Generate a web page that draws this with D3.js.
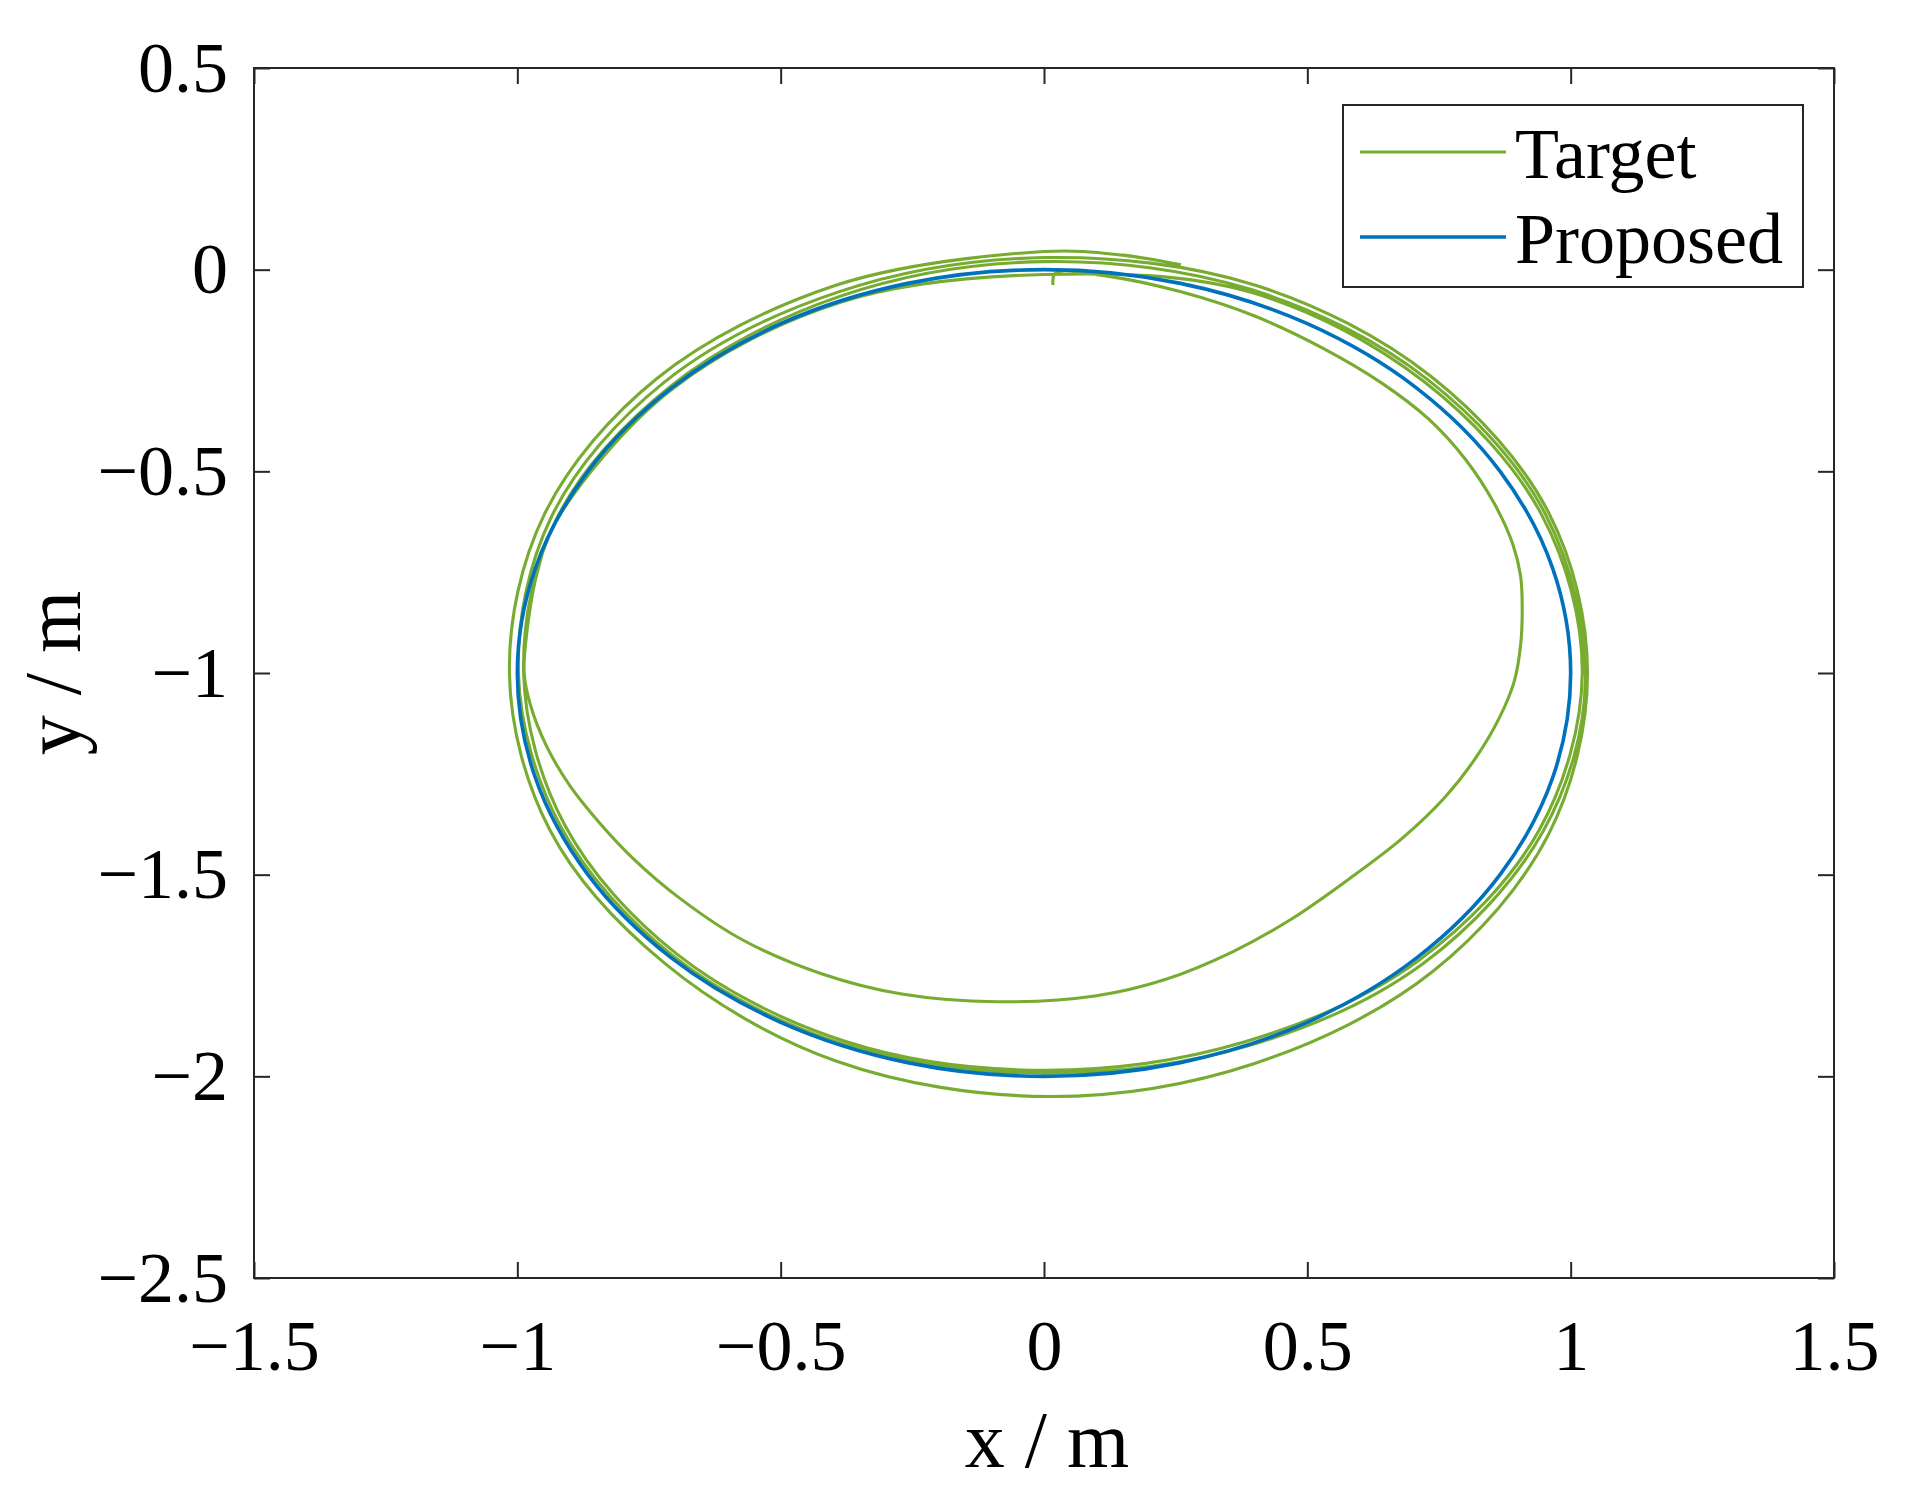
<!DOCTYPE html>
<html>
<head>
<meta charset="utf-8">
<script src="https://cdn.jsdelivr.net/npm/d3@7"></script>
<style>
  html, body { margin: 0; padding: 0; background: #ffffff; }
  svg { display: block; }
  text { font-family: "Liberation Serif", "Times New Roman", serif; fill: #000; }
</style>
</head>
<body>
<svg id="chart" width="1909" height="1496"></svg>
<script>
// ---------- data ----------
const xTicks = [-1.5, -1, -0.5, 0, 0.5, 1, 1.5];
const xTickLabels = ["\u22121.5", "\u22121", "\u22120.5", "0", "0.5", "1", "1.5"];
const yTicks = [-2.5, -2, -1.5, -1, -0.5, 0, 0.5];
const yTickLabels = ["\u22122.5", "\u22122", "\u22121.5", "\u22121", "\u22120.5", "0", "0.5"];
const seriesNames = ["Target", "Proposed"];
const seriesColors = ["#77AC30", "#0072BD"];

// Proposed trajectory (closed loop)
const proposedPts = [
  [0, 0], [0.259, -0.034], [0.5, -0.134], [0.707, -0.293], [0.866, -0.5], [0.966, -0.741],
  [1, -1], [0.966, -1.259], [0.866, -1.5], [0.707, -1.707], [0.5, -1.866], [0.259, -1.966],
  [0, -2], [-0.259, -1.966], [-0.5, -1.866], [-0.707, -1.707], [-0.866, -1.5], [-0.966, -1.259],
  [-1, -1], [-0.966, -0.741], [-0.866, -0.5], [-0.707, -0.293], [-0.5, -0.134], [-0.259, -0.034]
];

// Target trajectory, first (inner, shortcut) lap
const targetLap1 = [
  [0.017, -0.038], [0.022, -0.008], [0.12, -0.016], [0.26, -0.055], [0.40, -0.115], [0.53, -0.195],
  [0.64, -0.28], [0.73, -0.37], [0.80, -0.47], [0.855, -0.58], [0.89, -0.68], [0.905, -0.76],
  [0.908, -0.84], [0.905, -0.93], [0.893, -1.02], [0.865, -1.11], [0.82, -1.21], [0.76, -1.31],
  [0.68, -1.41], [0.58, -1.51], [0.47, -1.61], [0.36, -1.69], [0.23, -1.76], [0.10, -1.80],
  [-0.09, -1.815], [-0.27, -1.796], [-0.424, -1.745], [-0.572, -1.662], [-0.69, -1.56], [-0.78, -1.46],
  [-0.845, -1.37], [-0.90, -1.28], [-0.945, -1.18], [-0.975, -1.08], [-0.987, -1.0],
  [-0.982, -0.9], [-0.962, -0.75], [-0.925, -0.62], [-0.71, -0.30], [-0.385, -0.08], [0.0, -0.012]
];
// second lap
const targetLap2 = [
  [0.39, -0.055], [0.722, -0.278], [0.945, -0.608], [1.022, -1.0], [0.94, -1.39], [0.712, -1.712],
  [0.38, -1.915], [0.0, -1.985], [-0.378, -1.913], [-0.697, -1.697], [-0.91, -1.377], [-0.988, -1.0],
  [-0.925, -0.617], [-0.71, -0.29], [-0.385, -0.065], [0.0, 0.02]
];
// third lap
const targetLap3 = [
  [0.395, -0.05], [0.728, -0.272], [0.952, -0.606], [1.028, -1.02], [0.948, -1.392], [0.72, -1.72],
  [0.386, -1.925], [0.0, -1.992], [-0.382, -1.92], [-0.703, -1.703], [-0.918, -1.38], [-0.998, -1.0],
  [-0.935, -0.612], [-0.722, -0.28], [-0.39, -0.055], [0.0, 0.03]
];
// fourth (outer) lap
const targetLap4 = [
  [0.40, -0.038], [0.735, -0.265], [0.958, -0.602], [1.032, -1.0], [0.958, -1.40], [0.738, -1.74],
  [0.40, -1.968], [0.01, -2.05], [-0.395, -1.962], [-0.72, -1.72], [-0.938, -1.39], [-1.015, -1.0],
  [-0.948, -0.605], [-0.735, -0.27], [-0.398, -0.04], [0.0, 0.045], [0.15, 0.036], [0.26, 0.012]
];

// ---------- layout ----------
const L = 254, R = 1834, T = 68, B = 1278;
const svg = d3.select("#chart");
const x = d3.scaleLinear().domain([-1.5, 1.5]).range([L, R]);
const y = d3.scaleLinear().domain([-2.5, 0.5]).range([B, T]);
const axisColor = "#262626";
const tickLen = 16;
const fontSize = 72;
const greenW = 3.1, blueW = 3.6;

// ---------- data lines ----------
const targetPts = targetLap1.concat(targetLap2, targetLap3, targetLap4);
const lineOpen = d3.line().x(d => x(d[0])).y(d => y(d[1])).curve(d3.curveCatmullRom.alpha(0.5));
const lineClosed = d3.line().x(d => x(d[0])).y(d => y(d[1])).curve(d3.curveCatmullRomClosed.alpha(0.5));

svg.append("path").attr("d", lineOpen(targetPts))
  .attr("fill", "none").attr("stroke", seriesColors[0]).attr("stroke-width", greenW)
  .attr("stroke-linejoin", "round");
svg.append("path").attr("d", lineClosed(proposedPts))
  .attr("fill", "none").attr("stroke", seriesColors[1]).attr("stroke-width", blueW)
  .attr("stroke-linejoin", "round");

// ---------- axes ----------
function styleAxis(g) {
  g.select(".domain").remove();
  g.selectAll(".tick line").attr("stroke", axisColor).attr("stroke-width", 2);
  g.selectAll(".tick text").attr("font-size", fontSize).attr("fill", "#000")
    .attr("font-family", "'Liberation Serif', 'Times New Roman', serif");
}
const gx = svg.append("g").attr("transform", `translate(0,${B})`)
  .call(d3.axisBottom(x).tickValues(xTicks).tickSize(-tickLen).tickPadding(41)
    .tickFormat((d, i) => xTickLabels[i]));
styleAxis(gx);
const gy = svg.append("g").attr("transform", `translate(${L},0)`)
  .call(d3.axisLeft(y).tickValues(yTicks).tickSize(-tickLen).tickPadding(26)
    .tickFormat((d, i) => yTickLabels[i]));
styleAxis(gy);
const gt = svg.append("g").attr("transform", `translate(0,${T})`)
  .call(d3.axisTop(x).tickValues(xTicks).tickSize(-tickLen).tickFormat(""));
styleAxis(gt);
const gr = svg.append("g").attr("transform", `translate(${R},0)`)
  .call(d3.axisRight(y).tickValues(yTicks).tickSize(-tickLen).tickFormat(""));
styleAxis(gr);

svg.append("rect").attr("x", L).attr("y", T).attr("width", R - L).attr("height", B - T)
  .attr("fill", "none").attr("stroke", axisColor).attr("stroke-width", 2);

// axis labels
svg.append("text").attr("x", 1047).attr("y", 1467).attr("text-anchor", "middle")
  .attr("font-size", 80).text("x / m");
svg.append("text").attr("transform", "translate(80,673) rotate(-90)").attr("text-anchor", "middle")
  .attr("font-size", 80).text("y / m");

// ---------- legend ----------
const lg = svg.append("g");
lg.append("rect").attr("x", 1343).attr("y", 105).attr("width", 460).attr("height", 182)
  .attr("fill", "#fff").attr("stroke", axisColor).attr("stroke-width", 2);
const legendY = [152, 237];
const legendW = [greenW, blueW];
seriesNames.forEach((name, i) => {
  lg.append("line").attr("x1", 1360).attr("x2", 1506).attr("y1", legendY[i]).attr("y2", legendY[i])
    .attr("stroke", seriesColors[i]).attr("stroke-width", legendW[i]);
  lg.append("text").attr("x", 1515).attr("y", legendY[i] + 26).attr("font-size", fontSize).text(name);
});
</script>
</body>
</html>
